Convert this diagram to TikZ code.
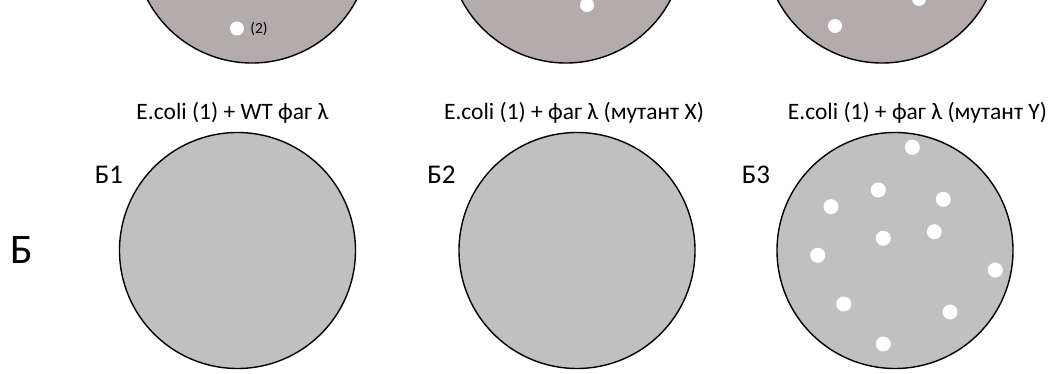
\documentclass[tikz,border=0pt]{standalone}
\usepackage{fontspec}
\setmainfont{Carlito}
\begin{document}
\begin{tikzpicture}[x=1pt,y=-1pt,
  plate/.style={draw=black, line width=1.4pt, fill=platefill},
  oldplate/.style={draw=black, line width=1.4pt, fill=oldfill},
  plaque/.style={fill=white, draw=none},
  title/.style={font=\fontsize{23.5}{28}\selectfont, anchor=base},
  lab/.style={font=\fontsize{27}{32}\selectfont, anchor=base}]
\definecolor{platefill}{RGB}{192,192,192}
\definecolor{oldfill}{RGB}{180,171,173}
\useasboundingbox (0,0) rectangle (1055,374);
\begin{scope}
\clip (0,0) rectangle (1055,374);
\draw[oldplate] (252,-55) circle (118);
\draw[oldplate] (566,-55) circle (118);
\draw[oldplate] (882,-55) circle (118);
\fill[plaque] (237,28.5) circle (7);
\fill[plaque] (587,5) circle (7);
\fill[plaque] (835,26) circle (7);
\fill[plaque] (919,-1) circle (7);
\end{scope}
\node[font=\fontsize{15.5}{18}\selectfont, anchor=base] (n2) at (259,34) {(2)};
% bottom plates
\node[title] (t1) at (232.5,120) {E.coli (1) + WT фаг λ};
\node[title] (t2) at (574,120) {E.coli (1) + фаг λ (мутант X)};
\node[title] (t3) at (917.5,120) {E.coli (1) + фаг λ (мутант Y)};
\draw[plate] (237.5,250.5) circle (118);
\draw[plate] (577,250.5) circle (118);
\draw[plate] (895,250.5) circle (118);
\node[lab] (b1) at (109,184) {Б1};
\node[lab] (b2) at (441.5,184) {Б2};
\node[lab] (b3) at (756,184) {Б3};
\node[font=\fontsize{42}{48}\selectfont, anchor=base] (B) at (22,263) {Б};
\foreach \x/\y in {912.3/147.3, 878.3/190, 831/206.7, 943.3/199.3, 934.3/231.7, 883.3/238.3, 817.7/255.3, 995.3/270, 843.7/304, 950/312, 883.3/344}
  \fill[plaque] (\x,\y) circle (7.5);
\end{tikzpicture}
\end{document}
